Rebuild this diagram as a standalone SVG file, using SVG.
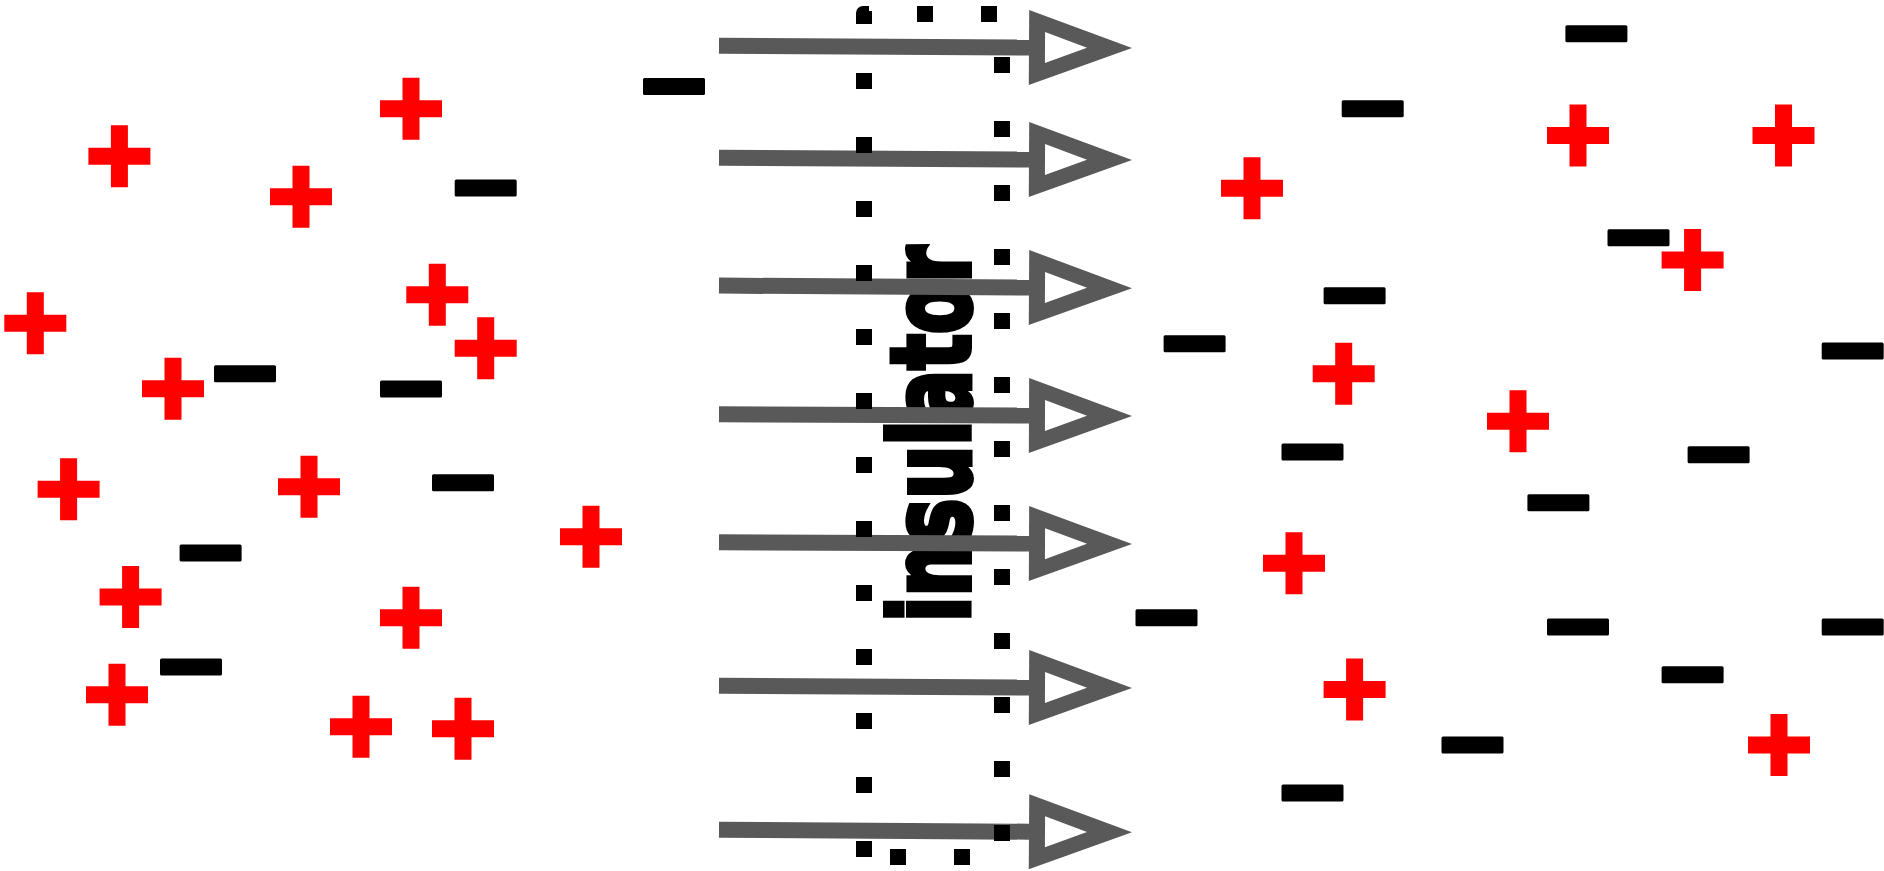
<svg xmlns="http://www.w3.org/2000/svg" xmlns:xlink="http://www.w3.org/1999/xlink" width="1884" height="871" viewBox="0 0 1884 871">
<style>
.pos{fill:#ff0000}
.neg{fill:#000000}
.arrow{stroke:#595959;stroke-width:16;fill:none}
.dots{stroke:#000;stroke-width:16;fill:none;stroke-dasharray:16 48}
.label{font-family:"DejaVu Sans","Liberation Sans",sans-serif;font-weight:bold;font-size:109px;fill:#000;stroke:#000;stroke-width:6;stroke-linejoin:miter}
</style>
<defs>
<path id="plus" class="pos" d="M-8.5,-31h17v22.5h22.5v17h-22.5v22.5h-17v-22.5h-22.5v-17h22.5z"/>
<rect id="minus" class="neg" x="-31" y="-8.5" width="62" height="17" rx="1.5"/>
<marker id="head" markerUnits="userSpaceOnUse" orient="auto" refX="0" refY="0" markerWidth="110" markerHeight="80" viewBox="0 -40 110 80" overflow="visible">
<path d="M0,-37.5L103,0L0,37.5z" fill="#595959"/>
<path d="M16,-15.5L58,0L16,15.5z" fill="#ffffff"/>
</marker>
</defs>
<rect width="1884" height="871" fill="#fff"/>
<g id="positive-charges">
<use id="p1" href="#plus" x="119.4" y="156.3"/>
<use id="p2" href="#plus" x="411" y="108.8"/>
<use id="p3" href="#plus" x="301" y="196.8"/>
<use id="p4" href="#plus" x="35.3" y="323.3"/>
<use id="p5" href="#plus" x="437.3" y="294.8"/>
<use id="p6" href="#plus" x="485.7" y="348.3"/>
<use id="p7" href="#plus" x="173" y="388.8"/>
<use id="p8" href="#plus" x="68.6" y="489.3"/>
<use id="p9" href="#plus" x="309" y="486.8"/>
<use id="p10" href="#plus" x="591" y="536.8"/>
<use id="p11" href="#plus" x="130.6" y="597"/>
<use id="p12" href="#plus" x="411" y="617.7"/>
<use id="p13" href="#plus" x="117" y="694.7"/>
<use id="p14" href="#plus" x="361" y="726.7"/>
<use id="p15" href="#plus" x="463" y="728.7"/>
<use id="p16" href="#plus" x="1252" y="188.2"/>
<use id="p17" href="#plus" x="1578" y="135.5"/>
<use id="p18" href="#plus" x="1783.5" y="135.5"/>
<use id="p19" href="#plus" x="1692.6" y="260"/>
<use id="p20" href="#plus" x="1343.7" y="373.7"/>
<use id="p21" href="#plus" x="1518" y="421.3"/>
<use id="p22" href="#plus" x="1294" y="563.3"/>
<use id="p23" href="#plus" x="1354.6" y="689.5"/>
<use id="p24" href="#plus" x="1779" y="745"/>
</g>
<g id="negative-charges">
<use id="m1" href="#minus" x="674" y="86.5"/>
<use id="m2" href="#minus" x="485.7" y="188"/>
<use id="m3" href="#minus" x="245" y="373.7"/>
<use id="m4" href="#minus" x="411" y="389"/>
<use id="m5" href="#minus" x="463" y="482.8"/>
<use id="m6" href="#minus" x="210.6" y="553"/>
<use id="m7" href="#minus" x="191" y="667"/>
<use id="m8" href="#minus" x="1596.4" y="33.7"/>
<use id="m9" href="#minus" x="1372.7" y="108.7"/>
<use id="m10" href="#minus" x="1638.5" y="237.7"/>
<use id="m11" href="#minus" x="1354.6" y="295.7"/>
<use id="m12" href="#minus" x="1194.6" y="343.7"/>
<use id="m13" href="#minus" x="1852.7" y="351"/>
<use id="m14" href="#minus" x="1312.5" y="452"/>
<use id="m15" href="#minus" x="1718.6" y="454.7"/>
<use id="m16" href="#minus" x="1558.4" y="502.8"/>
<use id="m17" href="#minus" x="1166.5" y="617.7"/>
<use id="m18" href="#minus" x="1578" y="627"/>
<use id="m19" href="#minus" x="1852.7" y="627"/>
<use id="m20" href="#minus" x="1692.6" y="674.7"/>
<use id="m21" href="#minus" x="1472.5" y="745"/>
<use id="m22" href="#minus" x="1312.5" y="793"/>
</g>
<g id="insulator-label">
<text class="label" transform="translate(969,622) rotate(-90)" textLength="376" lengthAdjust="spacingAndGlyphs">insulator</text>
</g>
<g id="connectors">
<line class="arrow" x1="719" y1="45.8" x2="1029" y2="47.5" marker-end="url(#head)"/>
<line class="arrow" x1="719" y1="157.8" x2="1029" y2="159.5" marker-end="url(#head)"/>
<line class="arrow" x1="719" y1="285.6" x2="1029" y2="287.5" marker-end="url(#head)"/>
<line class="arrow" x1="719" y1="414.2" x2="1029" y2="415.5" marker-end="url(#head)"/>
<line class="arrow" x1="719" y1="542.2" x2="1029" y2="543.6" marker-end="url(#head)"/>
<line class="arrow" x1="719" y1="685.8" x2="1029" y2="687.5" marker-end="url(#head)"/>
<line class="arrow" x1="719" y1="829.7" x2="1029" y2="831.7" marker-end="url(#head)"/>
</g>
<g id="insulator-boundary">
<line class="dots" x1="864" y1="73" x2="864" y2="857"/>
<line class="dots" x1="1002" y1="57" x2="1002" y2="841"/>
<line class="dots" x1="917" y1="14" x2="997" y2="14"/>
<line class="dots" x1="890" y1="857" x2="970" y2="857"/>
<path d="M856,24V13a7,7 0 0 1 7,-7h6v5h3v13z" fill="#000"/>
</g>
</svg>
